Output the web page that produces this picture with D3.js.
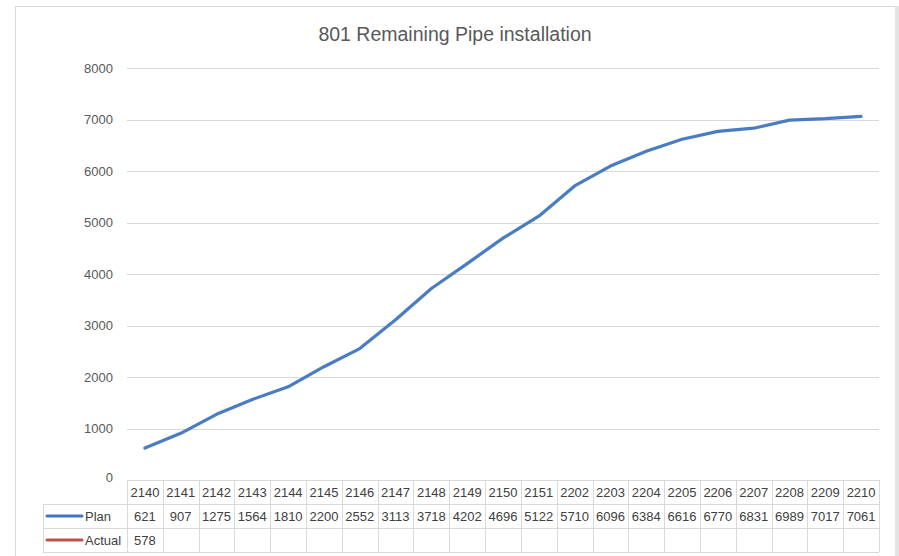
<!DOCTYPE html>
<html>
<head>
<meta charset="utf-8">
<script src="https://cdn.jsdelivr.net/npm/d3@7"></script>
<style>
  body { margin: 0; background: #fff; }
  text { font-family: "Liberation Sans", Arial, sans-serif; }
</style>
</head>
<body>
<div class="chart"></div>
<script>
var weeks = ["2140","2141","2142","2143","2144","2145","2146","2147","2148","2149","2150",
             "2151","2202","2203","2204","2205","2206","2207","2208","2209","2210"];
var plan = [621, 907, 1275, 1564, 1810, 2200, 2552, 3113, 3718, 4202, 4696,
            5122, 5710, 6096, 6384, 6616, 6770, 6831, 6989, 7017, 7061];
var actual = [578];
var yTicks = [0, 1000, 2000, 3000, 4000, 5000, 6000, 7000, 8000];

var width = 899, height = 556;
var plotLeft = 127, plotRight = 879, plotTop = 68, plotBottom = 480;
var rowH = 24;
var legendLeft = 43;

var svg = d3.select(".chart")
    .append("svg")
    .attr("width", width)
    .attr("height", height);

// chart frame
svg.append("rect")
    .attr("x", 15.5).attr("y", 6.5)
    .attr("width", 880).attr("height", 560)
    .attr("fill", "#fff")
    .attr("stroke", "#d9d9d9");
svg.append("rect")
    .attr("x", 895).attr("y", 6)
    .attr("width", 4).attr("height", 560)
    .attr("fill", "#e3e3e3");

svg.append("text")
    .attr("x", 455).attr("y", 41)
    .attr("text-anchor", "middle")
    .attr("font-size", 19.5)
    .attr("fill", "#595959")
    .text("801 Remaining Pipe installation");

var x = d3.scaleBand().domain(weeks).range([plotLeft, plotRight]);
var y = d3.scaleLinear().domain([0, 8000]).range([plotBottom, plotTop]);

// gridlines
svg.selectAll(".grid")
    .data(yTicks)
    .enter()
    .append("line")
    .attr("class", "grid")
    .attr("x1", plotLeft).attr("x2", plotRight)
    .attr("y1", function(d){ return Math.round(y(d)) + 0.5; })
    .attr("y2", function(d){ return Math.round(y(d)) + 0.5; })
    .attr("stroke", "#d9d9d9");

var yAxis = svg.append("g")
    .attr("transform", "translate(" + (plotLeft - 14) + ",0)")
    .call(d3.axisLeft(y).tickValues(yTicks).tickFormat(d3.format("d")).tickSize(0).tickPadding(0));
yAxis.select(".domain").remove();
yAxis.selectAll("text")
    .attr("font-size", 13)
    .attr("fill", "#595959")
    .style("font-family", "Liberation Sans, Arial, sans-serif");
// the 0 label sits a little above the table
yAxis.selectAll(".tick").filter(function(d){ return d === 0; })
    .select("text").attr("dy", "0.1em");

// data table
var tbl = svg.append("g").attr("class", "table");
var rowsY = [plotBottom, plotBottom + rowH, plotBottom + rowH * 2, plotBottom + rowH * 3];

tbl.selectAll(".hline")
    .data(rowsY)
    .enter()
    .append("line")
    .attr("x1", function(d, i){ return i === 0 ? plotLeft : legendLeft; })
    .attr("x2", plotRight)
    .attr("y1", function(d){ return d + 0.5; })
    .attr("y2", function(d){ return d + 0.5; })
    .attr("stroke", "#d9d9d9");

var vx = weeks.map(function(w){ return x(w); }).concat([plotRight]);
tbl.selectAll(".vline")
    .data(vx)
    .enter()
    .append("line")
    .attr("x1", function(d){ return Math.round(d) + 0.5; })
    .attr("x2", function(d){ return Math.round(d) + 0.5; })
    .attr("y1", plotBottom).attr("y2", plotBottom + rowH * 3)
    .attr("stroke", "#d9d9d9");
tbl.append("line")
    .attr("x1", legendLeft + 0.5).attr("x2", legendLeft + 0.5)
    .attr("y1", plotBottom + rowH).attr("y2", plotBottom + rowH * 3)
    .attr("stroke", "#d9d9d9");

function cellText(vals, row) {
    tbl.selectAll(".r" + row)
        .data(vals)
        .enter()
        .append("text")
        .attr("class", "r" + row)
        .attr("x", function(d, i){ return x(weeks[i]) + x.bandwidth() / 2; })
        .attr("y", plotBottom + rowH * row + 16.5)
        .attr("text-anchor", "middle")
        .attr("font-size", 13)
        .attr("fill", "#404040")
        .text(function(d){ return d; });
}
cellText(weeks, 0);
cellText(plan, 1);
cellText(actual, 2);

var series = [{name: "Plan", color: "#4472c4"}, {name: "Actual", color: "#c0504d"}];
series.forEach(function(s, i){
    var cy = plotBottom + rowH * (i + 1) + rowH / 2;
    tbl.append("line")
        .attr("x1", 47).attr("x2", 82)
        .attr("y1", cy).attr("y2", cy)
        .attr("stroke", s.color)
        .attr("stroke-width", 3)
        .attr("stroke-linecap", "round");
    tbl.append("text")
        .attr("x", 85).attr("y", cy + 4.5)
        .attr("font-size", 13)
        .attr("fill", "#404040")
        .text(s.name);
});

// plan line
var line = d3.line()
    .x(function(d, i){ return x(weeks[i]) + x.bandwidth() / 2; })
    .y(function(d){ return y(d); });

svg.append("path")
    .datum(plan)
    .attr("d", line)
    .attr("fill", "none")
    .attr("stroke", "#4a7cc4")
    .attr("stroke-width", 3.2)
    .attr("stroke-linejoin", "round")
    .attr("stroke-linecap", "round");

// actual has a single point and no marker, so nothing visible is drawn
svg.append("path")
    .datum(actual)
    .attr("d", line)
    .attr("fill", "none")
    .attr("stroke", "#c0504d")
    .attr("stroke-width", 3);
</script>
</body>
</html>
